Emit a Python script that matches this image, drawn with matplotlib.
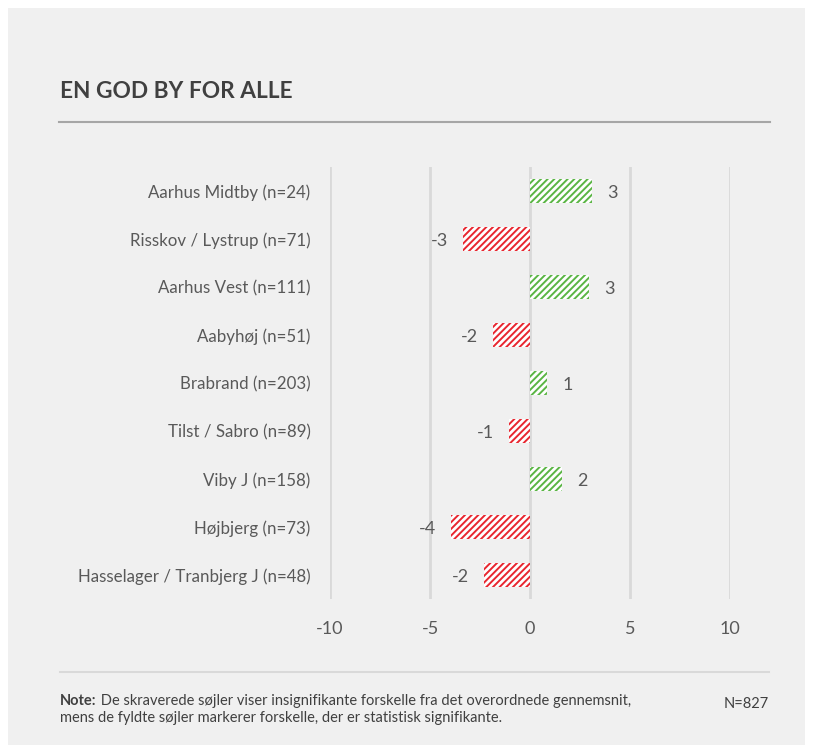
import numpy as np
import matplotlib.pyplot as plt
from matplotlib.patches import Rectangle
from matplotlib.lines import Line2D

# data
areas = ['Aarhus Midtby (n=24)', 'Risskov / Lystrup (n=71)', 'Aarhus Vest (n=111)',
         'Aabyhøj (n=51)', 'Brabrand (n=203)', 'Tilst / Sabro (n=89)',
         'Viby J (n=158)', 'Højbjerg (n=73)', 'Hasselager / Tranbjerg J (n=48)']
diffs = [3.1, -3.35, 2.95, -1.85, 0.85, -1.05, 1.6, -3.95, -2.3]
xticks = [-10, -5, 0, 5, 10]

title = 'EN GOD BY FOR ALLE'
note_bold = 'Note:'
note_rest = (' De skraverede søjler viser insignifikante forskelle fra det overordnede gennemsnit,')
note_line2 = 'mens de fyldte søjler markerer forskelle, der er statistisk signifikante.'
n_total = 'N=827'

red = '#e8262f'
green = '#5ab544'
txt = '#595959'

plt.rcParams['font.family'] = ['Lato', 'DejaVu Sans']
plt.rcParams['hatch.linewidth'] = 1.4

W, H = 813, 751
fig = plt.figure(figsize=(W / 100, H / 100), dpi=100, facecolor='white')

def fx(px):
    return px / W

def fy(py):
    return 1 - py / H

# grey panel
fig.patches.append(Rectangle((fx(8), fy(745)), fx(797), (737) / H,
                             transform=fig.transFigure, facecolor='#f0f0f0',
                             edgecolor='none', zorder=-5))

ax = fig.add_axes([fx(330), fy(599), fx(400), (599 - 167) / H])
ax.set_facecolor('none')

y = np.arange(len(areas))
colors = [green if d > 0 else red for d in diffs]
ax.barh(y, diffs, height=0.52, color='white', edgecolor=colors,
        hatch='/////', linewidth=0, zorder=3)

for yi, d in zip(y, diffs):
    lab = str(int(round(d)))
    if d > 0:
        ax.annotate(lab, (d, yi), xytext=(11, 0), textcoords='offset points',
                    ha='left', va='center_baseline', fontsize=13, color=txt)
    else:
        ax.annotate(lab, (d, yi), xytext=(-11, 0), textcoords='offset points',
                    ha='right', va='center_baseline', fontsize=13, color=txt)

ax.set_xlim(-10, 10)
ax.set_ylim(len(areas) - 0.5, -0.5)
ax.set_xticks(xticks)
ax.set_xticklabels([str(t) for t in xticks])
ax.set_yticks(y)
ax.set_yticklabels(areas)
ax.tick_params(axis='x', length=0, pad=16, labelsize=13, labelcolor=txt)
ax.tick_params(axis='y', length=0, pad=14, labelsize=12.2, labelcolor=txt)
for s in ax.spines.values():
    s.set_visible(False)
for t in xticks:
    ax.axvline(t, color='#d9d9d9', lw=2, zorder=1)

# title and rules
fig.text(fx(60), fy(91), title, fontsize=16.3, fontweight='bold', color='#404040',
         ha='left', va='center')
fig.add_artist(Line2D([fx(59), fx(770)], [fy(122), fy(122)], color='#a6a6a6', lw=1.5))
fig.add_artist(Line2D([fx(60), fx(769)], [fy(672), fy(672)], color='#d9d9d9', lw=1.5))

# note
t1 = fig.text(fx(60), fy(701), note_bold, fontsize=10.5, fontweight='bold', color='#404040',
              ha='left', va='center')
fig.canvas.draw()
bb = t1.get_window_extent()
fig.text(bb.x1 / W, fy(701), note_rest, fontsize=10.5, color='#404040', ha='left', va='center')
fig.text(fx(60), fy(718), note_line2, fontsize=10.5, color='#404040', ha='left', va='center')
fig.text(fx(769), fy(704), n_total, fontsize=10.5, color='#404040', ha='right', va='center')

fig.savefig('out.png', dpi=100, facecolor='white')
